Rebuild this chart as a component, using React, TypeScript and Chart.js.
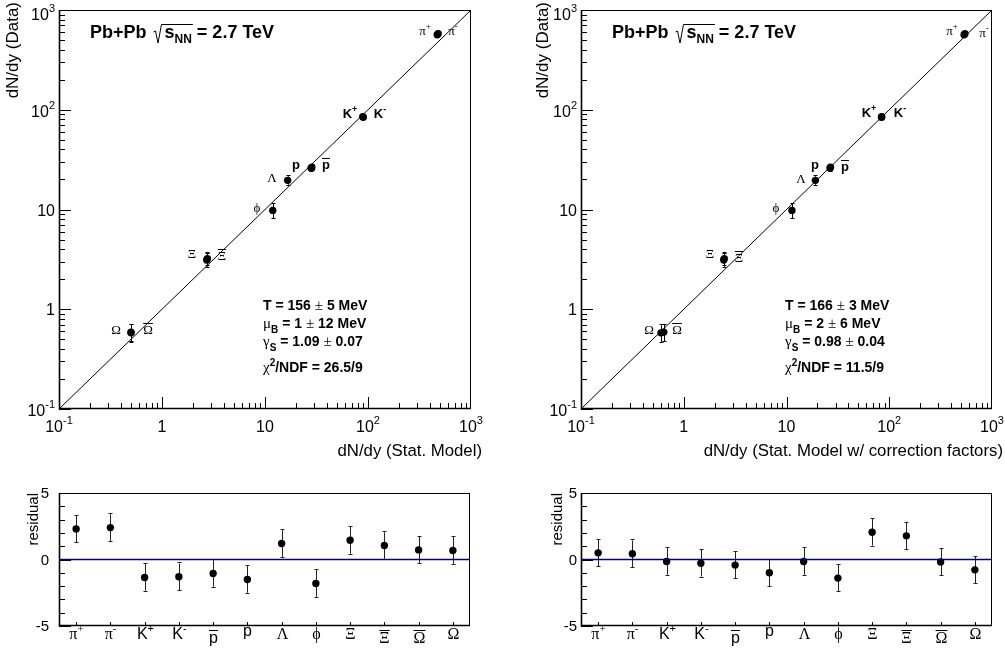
import { useEffect, useRef } from 'react';
import { Chart, registerables } from 'chart.js';

Chart.register(...registerables);

// ---------------- data ----------------
const particleBase = ['π', 'π', 'K', 'K', 'p', 'p', 'Λ', 'ϕ', 'Ξ', 'Ξ', 'Ω', 'Ω'];
const particleCharge = ['+', '-', '+', '-', '', '', '', '', '', '', '', ''];
const particleAnti = [false, false, false, false, true, false, false, false, false, true, true, false];
const particleGreek = [true, true, false, false, false, false, true, true, true, true, true, true];

const yieldData = [565, 578, 84, 85, 26, 26.5, 19.6, 9.8, 3.12, 3.22, 0.58, 0.59];
const yieldErr = [20, 20, 3, 3, 1.5, 1.5, 1.9, 1.6, 0.45, 0.45, 0.11, 0.11];
const modelStat = [470, 480, 90, 89, 28, 28.5, 16.6, 11.9, 2.72, 2.76, 0.5, 0.5];
const modelCorr = [535, 545, 84, 84.5, 26.5, 26.8, 19.1, 11.3, 2.45, 2.48, 0.6, 0.64];
const residStat = [2.3, 2.4, -1.35, -1.3, -1.05, -1.5, 1.2, -1.8, 1.45, 1.05, 0.72, 0.68];
const residCorr = [0.5, 0.43, -0.15, -0.28, -0.42, -1.0, -0.15, -1.4, 2.05, 1.78, -0.18, -0.78];
const residErr = [1, 1, 1, 1, 1, 1, 1, 1, 1, 1, 1, 1];

const axisRange = [0.1, 1000];
const logTickValues = [0.1, 1, 10, 100, 1000];
const logTickBase = ['10', '1', '10', '10', '10'];
const logTickExp = ['-1', '', '', '2', '3'];
const residRange = [-5, 5];
const residTickValues = [-5, 0, 5];
const residTickLabels = ['-5', '0', '5'];

// fit results: T, dT, muB, dMuB, gammaS, dGammaS, chi2/NDF
const fitStat = ['156', '5', '1', '12', '1.09', '0.07', '26.5/9'];
const fitCorr = ['166', '3', '2', '6', '0.98', '0.04', '11.5/9'];

// label placement (relative to plot frame, px)
const labelPosStat = [[366, 20], [394, 20], [291, 103], [321, 103], [267, 154], [237, 154], [213, 167], [198, 197], [133, 243], [163, 245], [89, 319], [57, 319]];
const labelPosCorr = [[371, 20], [403, 22], [288, 102], [319, 102], [264, 156], [234, 154], [220, 168], [195, 197], [129, 243], [158, 247], [96, 319], [68, 319]];

// ---------------- text helpers ----------------
const SANS = '"Liberation Sans", Arial, Helvetica, sans-serif';
const SERIF = '"Liberation Serif", "Times New Roman", serif';
const fnt = (size: number, fam: string, bold = false) => `${bold ? 'bold ' : ''}${size}px ${fam}`;

type Seg = { t: string; f: string; dy?: number; bar?: boolean };

function richWidth(ctx: CanvasRenderingContext2D, segs: Seg[]) {
  let w = 0;
  for (const s of segs) {
    ctx.font = s.f;
    w += ctx.measureText(s.t).width;
  }
  return w;
}

function drawRich(ctx: CanvasRenderingContext2D, segs: Seg[], x: number, y: number, align: 'left' | 'center' | 'right' = 'left') {
  const w = richWidth(ctx, segs);
  let cx = align === 'left' ? x : align === 'center' ? x - w / 2 : x - w;
  ctx.textAlign = 'left';
  ctx.textBaseline = 'alphabetic';
  ctx.fillStyle = '#000';
  for (const s of segs) {
    ctx.font = s.f;
    const sw = ctx.measureText(s.t).width;
    ctx.fillText(s.t, cx, y + (s.dy || 0));
    if (s.bar) {
      const m = s.f.match(/(\d+(?:\.\d+)?)px/);
      const size = m ? parseFloat(m[1]) : 14;
      const by = Math.round(y - size * 0.82) + 0.5;
      ctx.beginPath();
      ctx.lineWidth = 1;
      ctx.strokeStyle = '#000';
      ctx.moveTo(cx, by);
      ctx.lineTo(cx + sw, by);
      ctx.stroke();
    }
    cx += sw;
  }
  return cx;
}

function particleSegs(i: number, size: number, boldLatin: boolean): Seg[] {
  const greek = particleGreek[i];
  const fam = greek ? SERIF : SANS;
  const bold = !greek && boldLatin;
  const segs: Seg[] = [{ t: particleBase[i], f: fnt(size, fam, bold), bar: particleAnti[i] }];
  if (particleCharge[i]) {
    segs.push({ t: particleCharge[i], f: fnt(Math.round(size * 0.7), fam, bold), dy: -Math.round(size * 0.45) });
  }
  return segs;
}

function line(ctx: CanvasRenderingContext2D, x1: number, y1: number, x2: number, y2: number, w = 1, color = '#000') {
  ctx.beginPath();
  ctx.lineWidth = w;
  ctx.strokeStyle = color;
  ctx.moveTo(x1, y1);
  ctx.lineTo(x2, y2);
  ctx.stroke();
}

function drawFrame(ctx: CanvasRenderingContext2D, a: any) {
  line(ctx, a.left, a.top + 0.5, a.right, a.top + 0.5, 1);
  line(ctx, a.right - 0.5, a.top, a.right - 0.5, a.bottom, 1);
  line(ctx, a.left + 0.5, a.top, a.left + 0.5, a.bottom + 0.5, 1.6);
  line(ctx, a.left, a.bottom - 0.5, a.right, a.bottom - 0.5, 1.6);
}

function drawErrorBars(ctx: CanvasRenderingContext2D, xs: any, ys: any, xv: number[], yv: number[], ev: number[], color: string) {
  for (let i = 0; i < xv.length; i++) {
    const px = Math.round(xs.getPixelForValue(xv[i])) + 0.5;
    const y1 = ys.getPixelForValue(yv[i] - ev[i]);
    const y2 = ys.getPixelForValue(yv[i] + ev[i]);
    line(ctx, px, y1, px, y2, 1, color);
    line(ctx, px - 2, Math.round(y1) + 0.5, px + 2, Math.round(y1) + 0.5, 1, color);
    line(ctx, px - 2, Math.round(y2) - 0.5, px + 2, Math.round(y2) - 0.5, 1, color);
  }
}

// ---------------- configs ----------------
function logPanelConfig(model: number[], fit: string[], labelPos: number[][], xTitle: string, yTitleX: number, pad: any) {
  return {
    type: 'scatter',
    data: {
      datasets: [
        {
          type: 'line',
          data: axisRange.map((v) => ({ x: v, y: v })),
          borderColor: '#000',
          borderWidth: 1,
          pointRadius: 0,
          fill: false,
        },
        {
          type: 'scatter',
          data: model.map((m, i) => ({ x: m, y: yieldData[i] })),
          backgroundColor: '#000',
          borderColor: '#000',
          borderWidth: 0,
          pointRadius: 3.7,
        },
      ],
    },
    options: {
      responsive: false,
      animation: false,
      devicePixelRatio: 1,
      events: [],
      layout: { padding: pad },
      plugins: { legend: { display: false }, tooltip: { enabled: false }, title: { display: false } },
      scales: {
        x: { type: 'logarithmic', min: axisRange[0], max: axisRange[1], display: false },
        y: { type: 'logarithmic', min: axisRange[0], max: axisRange[1], display: false },
      },
    },
    plugins: [
      {
        id: 'rootDecor',
        beforeDatasetsDraw(chart: any) {
          const { ctx, scales } = chart;
          ctx.save();
          drawErrorBars(ctx, scales.x, scales.y, model, yieldData, yieldErr, '#000');
          ctx.restore();
        },
        afterDraw(chart: any) {
          const { ctx, chartArea: a, scales } = chart;
          const xs = scales.x;
          const ys = scales.y;
          ctx.save();
          drawFrame(ctx, a);
          // ticks
          for (let d = -1; d <= 2; d++) {
            for (let k = 1; k <= 9; k++) {
              const v = k * Math.pow(10, d);
              const len = k === 1 ? 12 : 6;
              const px = Math.round(xs.getPixelForValue(v)) + 0.5;
              const py = Math.round(ys.getPixelForValue(v)) + 0.5;
              line(ctx, px, a.bottom, px, a.bottom - len, 1);
              line(ctx, a.left, py, a.left + len, py, 1);
            }
          }
          // tick labels
          logTickValues.forEach((v, i) => {
            const segs: Seg[] = [{ t: logTickBase[i], f: fnt(16, SANS) }];
            if (logTickExp[i]) segs.push({ t: logTickExp[i], f: fnt(11, SANS), dy: -8 });
            const px = xs.getPixelForValue(v);
            drawRich(ctx, segs, px, a.bottom + 23, 'center');
            const py = ys.getPixelForValue(v);
            const extra = (logTickExp[i] ? 1 : 0) + (v === axisRange[1] ? 3 : 0);
            drawRich(ctx, segs, a.left - 4, py + 6 + extra, 'right');
          });
          // axis titles
          ctx.fillStyle = '#000';
          ctx.font = fnt(16.8, SANS);
          ctx.textAlign = 'right';
          ctx.textBaseline = 'alphabetic';
          ctx.fillText(xTitle, a.right + 11, a.bottom + 47);
          ctx.save();
          ctx.translate(yTitleX, 2);
          ctx.rotate(-Math.PI / 2);
          ctx.textAlign = 'right';
          ctx.textBaseline = 'middle';
          ctx.font = fnt(17, SANS);
          ctx.fillText('dN/dy (Data)', 0, 0);
          ctx.restore();
          // title
          const tx = a.left + 31;
          const tb = a.top + 28;
          ctx.font = fnt(18, SANS, true);
          ctx.textAlign = 'left';
          ctx.fillText('Pb+Pb', tx, tb);
          const rx = tx + ctx.measureText('Pb+Pb').width + 7;
          const content: Seg[] = [
            { t: 's', f: fnt(18, SANS, true) },
            { t: 'NN', f: fnt(12, SANS, true), dy: 5 },
          ];
          const cw = richWidth(ctx, content);
          ctx.beginPath();
          ctx.lineWidth = 1;
          ctx.strokeStyle = '#000';
          ctx.moveTo(rx, tb - 6);
          ctx.lineTo(rx + 2, tb - 7);
          ctx.lineTo(rx + 4.5, tb + 5);
          ctx.lineTo(rx + 8, tb - 13.5);
          ctx.lineTo(rx + 11 + cw + 1, tb - 13.5);
          ctx.stroke();
          const end = drawRich(ctx, content, rx + 11, tb);
          drawRich(ctx, [{ t: ' = 2.7 TeV', f: fnt(18, SANS, true) }], end, tb);
          // particle labels
          labelPos.forEach((p, i) => {
            drawRich(ctx, particleSegs(i, 13, true), a.left + p[0], a.top + p[1] + 5, 'center');
          });
          // fit results
          const B = fnt(14, SANS, true);
          const S = fnt(15, SERIF);
          const sub = fnt(10, SANS, true);
          const fx = a.left + 204;
          drawRich(ctx, [{ t: `T = ${fit[0]} `, f: B }, { t: '±', f: S }, { t: ` ${fit[1]} MeV`, f: B }], fx, a.top + 300);
          drawRich(ctx, [{ t: 'μ', f: S }, { t: 'B', f: sub, dy: 5 }, { t: ` = ${fit[2]} `, f: B }, { t: '±', f: S }, { t: ` ${fit[3]} MeV`, f: B }], fx, a.top + 318);
          drawRich(ctx, [{ t: 'γ', f: S }, { t: 'S', f: sub, dy: 5 }, { t: ` = ${fit[4]} `, f: B }, { t: '±', f: S }, { t: ` ${fit[5]}`, f: B }], fx, a.top + 336);
          drawRich(ctx, [{ t: 'χ', f: S }, { t: '2', f: sub, dy: -6 }, { t: `/NDF = ${fit[6]}`, f: B }], fx, a.top + 362);
          ctx.restore();
        },
      },
    ],
  };
}

function residPanelConfig(resid: number[], yTitleX: number, labelGap: number, pad: any) {
  const cats = resid.map((_, i) => i);
  return {
    type: 'scatter',
    data: {
      datasets: [
        {
          type: 'line',
          data: [{ x: -0.5, y: 0 }, { x: cats.length - 0.5, y: 0 }],
          borderColor: '#000080',
          borderWidth: 1.3,
          pointRadius: 0,
          fill: false,
        },
        {
          type: 'scatter',
          data: resid.map((r, i) => ({ x: cats[i], y: r })),
          backgroundColor: '#000',
          borderColor: '#000',
          borderWidth: 0,
          pointRadius: 3.7,
        },
      ],
    },
    options: {
      responsive: false,
      animation: false,
      devicePixelRatio: 1,
      events: [],
      layout: { padding: pad },
      plugins: { legend: { display: false }, tooltip: { enabled: false }, title: { display: false } },
      scales: {
        x: { type: 'linear', min: -0.5, max: cats.length - 0.5, display: false },
        y: { type: 'linear', min: residRange[0], max: residRange[1], display: false },
      },
    },
    plugins: [
      {
        id: 'residDecor',
        beforeDatasetsDraw(chart: any) {
          const { ctx, scales } = chart;
          ctx.save();
          drawErrorBars(ctx, scales.x, scales.y, cats, resid, residErr, '#222');
          ctx.restore();
        },
        afterDraw(chart: any) {
          const { ctx, chartArea: a, scales } = chart;
          const xs = scales.x;
          const ys = scales.y;
          ctx.save();
          drawFrame(ctx, a);
          for (let v = residRange[0]; v <= residRange[1]; v++) {
            const py = Math.round(ys.getPixelForValue(v)) + 0.5;
            const len = v % 5 === 0 ? 12 : 6;
            line(ctx, a.left, py, a.left + len, py, 1);
          }
          residTickValues.forEach((v, i) => {
            drawRich(ctx, [{ t: residTickLabels[i], f: fnt(15, SANS) }], a.left - labelGap, ys.getPixelForValue(v) + 5, 'right');
          });
          cats.forEach((c, i) => {
            const px = Math.round(xs.getPixelForValue(c)) + 0.5;
            line(ctx, px, a.bottom, px, a.bottom - 4, 1);
            let dy = 13;
            if (particleAnti[i]) dy = 17;
            else if (particleBase[i] === 'p') dy = 10;
            drawRich(ctx, particleSegs(i, 16, false), px, a.bottom + dy, 'center');
          });
          ctx.fillStyle = '#000';
          ctx.font = fnt(15, SANS);
          ctx.save();
          ctx.translate(yTitleX, a.top);
          ctx.rotate(-Math.PI / 2);
          ctx.textAlign = 'right';
          ctx.textBaseline = 'middle';
          ctx.fillText('residual', 0, 0);
          ctx.restore();
          ctx.restore();
        },
      },
    ],
  };
}

// ---------------- components ----------------
function Panel(props: { left: number; top: number; width: number; height: number; make: () => any }) {
  const ref = useRef<HTMLCanvasElement>(null);
  useEffect(() => {
    if (!ref.current) return;
    const chart = new Chart(ref.current, props.make());
    return () => chart.destroy();
  }, []);
  return (
    <canvas
      ref={ref}
      width={props.width}
      height={props.height}
      style={{ position: 'absolute', left: props.left, top: props.top, width: props.width, height: props.height }}
    />
  );
}

export default function App() {
  return (
    <div style={{ position: 'absolute', left: 0, top: 0, width: 1005, height: 648, background: '#fff', overflow: 'hidden' }}>
      <Panel
        left={0}
        top={0}
        width={502}
        height={470}
        make={() => logPanelConfig(modelStat, fitStat, labelPosStat, 'dN/dy (Stat. Model)', 13, { left: 59, top: 10, right: 31, bottom: 61 })}
      />
      <Panel
        left={502}
        top={0}
        width={503}
        height={470}
        make={() =>
          logPanelConfig(modelCorr, fitCorr, labelPosCorr, 'dN/dy (Stat. Model w/ correction factors)', 41, { left: 79, top: 10, right: 13, bottom: 61 })
        }
      />
      <Panel left={0} top={470} width={502} height={178} make={() => residPanelConfig(residStat, 34, 10, { left: 59, top: 23, right: 32, bottom: 22 })} />
      <Panel left={502} top={470} width={503} height={178} make={() => residPanelConfig(residCorr, 56, 4, { left: 79, top: 23, right: 13, bottom: 22 })} />
    </div>
  );
}
